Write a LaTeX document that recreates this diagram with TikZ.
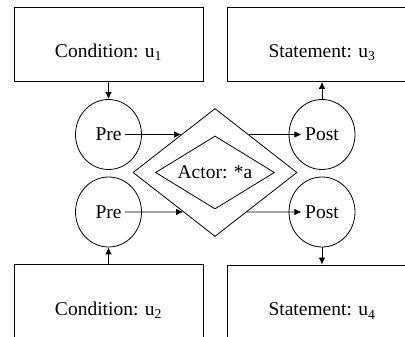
\documentclass[tikz,border=0pt]{standalone}
\usepackage{fontspec}
\setmainfont{Liberation Serif}
\usetikzlibrary{arrows.meta, shapes.geometric}

\begin{document}
\begin{tikzpicture}[x=1pt, y=1pt, line width=0.8pt,
	font=\fontsize{19.5}{23}\selectfont,
	>={Latex[length=7pt,width=6.5pt]},
	box/.style={draw, rectangle, minimum width=189pt, minimum height=74pt, inner sep=0pt},
	ring/.style={draw, ellipse, minimum width=66pt, minimum height=70pt, inner sep=0pt},
	rhomb/.style={draw, diamond, aspect=1.6, inner sep=0pt}]
	\clip (0,0) rectangle (405,337);
	% conditions on the left, statements on the right
	\node[box, label={[yshift=-8pt]center:{Condition: u\textsubscript{1}}}] (cond1) at (108.5,292.5) {};
	\node[box, label={[yshift=-8pt]center:{Statement: u\textsubscript{3}}}] (stmt1) at (322,292.5) {};
	\node[box, label={[yshift=-9pt]center:{Condition: u\textsubscript{2}}}] (cond2) at (108.5,36) {};
	\node[box, label={[yshift=-9pt]center:{Statement: u\textsubscript{4}}}] (stmt2) at (322,35) {};
	% pre and post places
	\node[ring, label={[name=pre1t]center:Pre}] (pre1) at (108.5,202.5) {};
	\node[ring, label={[name=pre2t]center:Pre}] (pre2) at (108.5,125) {};
	\node[ring, label={[name=post1t]center:Post}] (post1) at (322,202.5) {};
	\node[ring, label={[name=post2t]center:Post}] (post2) at (322,125) {};
	% the actor
	\node[rhomb, minimum width=164pt, minimum height=128pt] (outer) at (215,164.5) {};
	\node[rhomb, minimum width=119pt, minimum height=73pt] (actor) at (215,164.5) {Actor: *a};
	\draw[->] (cond1) -- (pre1);
	\draw[->] (cond2) -- (pre2);
	\draw[->] (post1) -- (stmt1);
	\draw[->] (post2) -- (stmt2);
	\draw[->] (pre1t.east) -- (intersection of pre1t.east--post1t.west and outer.west--outer.north);
	\draw[->] (pre2t.east) -- (intersection of pre2t.east--post2t.west and outer.west--outer.south);
	\draw[->] (intersection of pre1t.east--post1t.west and outer.north--outer.east) -- (post1t.west);
	\draw[->] (intersection of pre2t.east--post2t.west and outer.south--outer.east) -- (post2t.west);
\end{tikzpicture}
\end{document}
